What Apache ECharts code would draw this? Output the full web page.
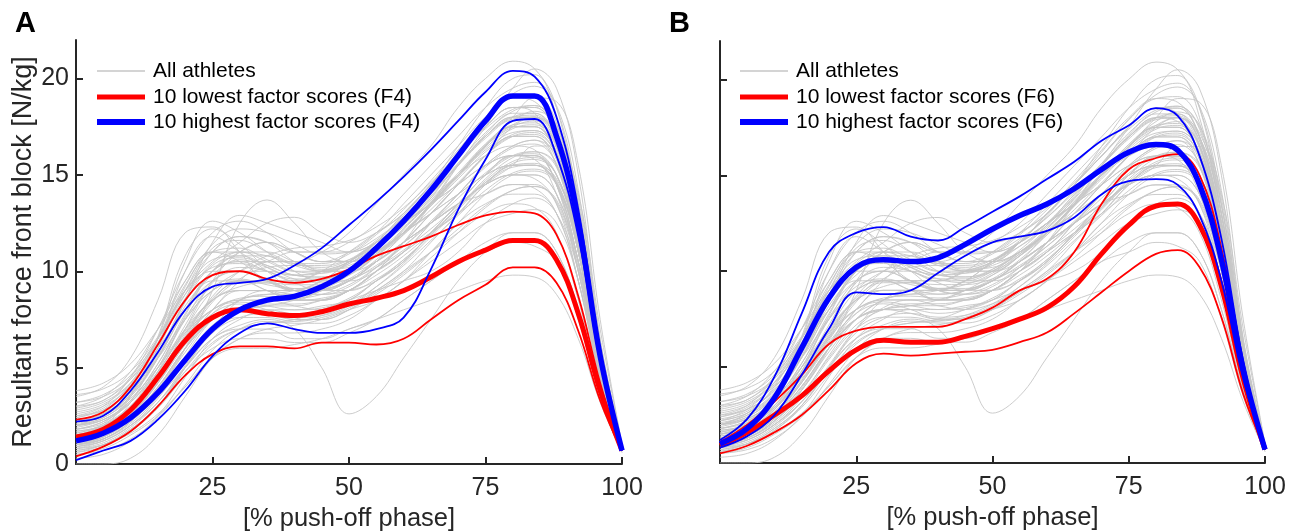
<!DOCTYPE html>
<html><head><meta charset="utf-8">
<script src="https://cdn.jsdelivr.net/npm/echarts@6/dist/echarts.min.js"></script>
<style>html,body{margin:0;padding:0;background:#fff}#c{width:1300px;height:531px}</style>
</head><body><div id="c"></div>
<script>
// x positions (% push-off phase)
const X = [0,5,10,15,20,25,30,35,40,45,50,55,60,65,70,75,80,84,88,92,96,100];
const xTicks = [25,50,75,100];
const yTicks = [0,5,10,15,20];

// All athletes (same curves in both panels)
const g1 = [2.0,2.6,4.0,6.5,9.5,11.0,10.5,9.5,9.0,9.5,10.5,11.5,12.5,13.8,15.0,16.0,16.5,16.3,14.5,10.0,4.5,0.8];
const g2 = [3.5,4.0,5.5,8.5,12.0,12.3,11.0,9.5,9.5,10.0,11.0,12.0,13.0,14.5,16.0,17.5,18.5,18.2,16.0,11.0,4.8,0.8];
const g3 = [1.0,1.5,2.5,4.0,6.0,7.5,8.5,8.8,9.0,9.5,10.5,11.5,12.5,13.5,14.5,15.5,16.0,15.8,14.0,10.0,4.5,0.7];
const g4 = [0.5,0.8,1.5,2.5,4.0,5.5,6.0,6.0,6.2,6.5,7.0,7.5,8.0,8.5,9.0,9.5,9.8,9.7,8.8,6.5,3.2,0.6];
const g5 = [2.5,3.0,4.5,7.0,10.0,12.0,12.6,12.0,11.0,10.5,11.0,12.0,13.5,15.0,16.5,18.0,19.0,18.8,17.0,12.0,5.0,0.8];
const g6 = [1.5,2.0,3.0,5.0,7.5,9.0,9.5,9.0,8.5,8.5,9.0,10.0,11.5,13.0,14.5,16.0,17.0,17.2,16.0,12.0,5.5,0.8];
const g7 = [0.8,1.2,2.0,3.2,5.0,6.5,7.0,7.0,6.5,6.5,7.0,7.5,8.5,9.5,10.5,11.5,12.0,12.0,11.0,8.0,3.8,0.7];
const g8 = [3.0,3.3,4.5,6.5,8.5,10.0,11.0,11.5,11.0,10.5,10.5,11.5,13.0,14.5,16.5,18.5,20.0,20.2,18.0,12.5,5.0,0.8];
const g9 = [1.8,2.2,3.2,5.0,7.0,8.5,9.0,9.0,8.8,9.0,9.5,10.5,11.5,12.5,13.5,14.5,15.0,15.0,14.0,10.5,5.0,0.8];
const g10 = [1.0,1.3,2.2,3.5,5.0,6.5,7.2,7.5,7.0,5.0,2.6,3.5,5.5,7.5,9.5,11.0,12.0,12.0,11.0,8.0,3.8,0.7];
const g11 = [2.2,2.8,4.2,6.5,9.0,10.5,11.5,12.5,12.8,12.0,11.5,12.0,13.0,14.5,16.0,17.5,18.5,18.5,17.0,12.5,5.5,0.8];
const g12 = [0.3,0.5,1.2,2.5,4.5,6.5,7.5,8.0,8.0,8.2,8.5,9.5,10.5,12.0,13.5,15.0,16.0,16.0,14.5,10.5,4.8,0.7];
const g13 = [1.2,1.6,2.6,4.2,6.2,8.0,9.5,10.5,10.5,10.0,10.0,10.8,12.0,13.5,15.0,16.5,17.5,17.8,16.5,12.5,5.8,0.8];
const g14 = [2.8,3.2,4.2,6.0,8.0,9.5,10.0,10.0,9.8,10.0,10.5,11.5,12.5,13.5,14.5,15.5,16.0,16.0,15.0,11.5,5.5,0.9];
const g15 = [0.6,1.0,1.8,3.0,4.8,6.3,7.0,7.3,7.5,8.0,8.5,9.0,9.5,10.0,11.0,12.5,13.5,13.8,13.0,10.0,4.8,0.7];
const g16 = [1.5,1.8,2.8,4.5,7.0,9.5,11.0,11.5,11.0,10.5,10.5,11.0,12.0,13.5,15.5,17.5,19.5,20.5,19.5,15.0,6.5,0.9];
const g17 = [2.0,2.4,3.4,5.0,6.8,8.0,8.5,8.5,8.2,8.0,8.3,9.0,10.0,11.0,12.0,13.0,13.5,13.3,12.0,8.5,4.0,0.7];
const g18 = [3.8,4.2,5.2,7.0,9.0,10.0,10.0,9.5,9.0,9.0,9.5,10.5,11.5,13.0,14.5,16.0,17.0,17.0,15.5,11.0,5.0,0.8];
const g19 = [1.0,1.3,2.2,3.8,6.0,8.0,9.0,9.0,8.5,8.5,9.0,10.0,11.5,13.5,15.5,17.0,18.0,18.0,16.5,12.0,5.2,0.8];
const g20 = [0.8,1.0,1.6,2.6,4.0,5.5,6.5,7.0,7.2,7.5,8.0,8.5,9.5,10.5,11.5,12.5,13.0,13.2,12.5,9.5,4.5,0.7];
const g21 = [2.5,2.8,3.8,5.8,8.5,11.0,11.8,11.5,10.5,10.0,10.0,10.5,11.5,12.5,13.5,14.5,15.0,14.8,13.5,9.5,4.5,0.8];
const g22 = [1.4,1.8,2.8,4.5,6.5,8.0,8.5,8.5,8.5,9.0,9.5,10.5,11.5,12.5,13.5,14.0,14.5,14.5,13.5,10.0,4.5,0.7];
const g23 = [1.6,2.0,3.0,4.8,7.0,9.0,10.0,10.5,11.0,11.0,11.0,11.5,12.5,14.0,15.5,17.0,18.0,18.2,17.0,13.0,6.0,0.9];
const g24 = [0.9,1.2,2.0,3.2,4.8,6.0,6.5,6.5,6.3,6.3,6.8,7.5,8.5,9.5,10.5,11.0,11.5,11.3,10.5,7.5,3.5,0.6];
const g25 = [2.2,2.6,3.6,5.5,8.0,10.0,10.5,10.0,9.5,9.5,10.0,11.0,12.0,13.0,14.5,16.0,17.5,18.0,17.0,13.0,6.0,0.9];
const g26 = [1.2,1.5,2.4,4.0,6.0,7.5,8.0,8.0,7.8,8.0,8.5,9.5,10.5,12.0,13.5,15.0,16.0,16.2,15.5,11.5,5.5,0.8];
const g27 = [3.0,3.5,4.8,7.0,9.5,11.0,11.0,10.5,10.0,10.0,10.5,11.5,13.0,14.5,16.0,17.5,18.5,18.5,17.0,12.5,5.5,0.8];
const g28 = [0.0,0.0,0.3,1.5,3.5,5.5,6.5,6.8,6.8,7.0,7.5,8.5,9.5,11.0,12.5,14.0,15.0,15.2,14.5,11.0,5.0,0.7];
const g29 = [1.8,2.2,3.2,5.0,7.5,9.5,10.0,9.5,9.0,8.8,9.0,9.5,10.5,12.0,13.5,15.0,16.0,16.0,14.5,10.5,4.8,0.8];
const g30 = [2.6,3.0,4.0,5.5,7.5,9.0,9.5,9.5,9.5,10.0,10.5,11.5,12.5,14.0,15.5,17.0,18.0,17.8,16.0,11.5,5.0,0.8];
const g31 = [1.0,1.4,2.4,4.0,6.0,7.5,8.0,7.8,7.5,7.5,8.0,8.8,9.8,11.0,12.5,13.5,14.0,14.0,13.0,9.5,4.5,0.7];
const g32 = [2.0,2.5,3.5,5.5,8.5,11.5,12.9,12.5,12.0,11.5,11.0,11.5,12.5,13.5,15.0,16.5,17.5,17.5,16.0,11.5,5.0,0.8];
const g33 = [1.3,1.7,2.7,4.3,6.3,7.8,8.3,8.0,7.5,7.5,8.0,9.0,10.0,11.5,13.0,14.5,15.5,15.5,14.5,10.5,4.8,0.8];
const g34 = [0.7,1.0,1.8,3.0,5.0,7.0,8.5,9.0,9.0,9.0,9.5,10.5,12.0,13.5,15.0,16.5,17.5,17.5,16.0,11.5,5.0,0.8];
const g35 = [3.2,3.6,4.6,6.5,9.0,11.0,11.8,11.5,11.0,11.0,11.5,12.5,14.0,15.5,17.0,18.5,19.5,19.8,18.5,13.5,6.0,0.9];
const g36 = [1.7,2.0,2.9,4.4,6.2,7.5,8.0,8.2,8.5,9.0,9.8,10.8,12.0,13.0,14.0,15.0,15.5,15.5,14.8,11.5,5.5,0.8];
const g37 = [2.4,2.8,3.8,5.8,8.0,9.5,9.5,9.0,8.5,8.5,9.0,10.0,11.0,12.0,13.0,14.0,14.5,14.3,13.0,9.5,4.3,0.7];
const g38 = [1.1,1.5,2.5,4.2,6.5,8.5,9.5,9.5,9.0,9.0,9.5,10.5,11.5,12.5,13.5,14.5,15.0,15.0,14.0,10.5,5.0,0.8];
const g39 = [0.9,1.3,2.2,3.6,5.5,7.2,8.0,8.3,8.3,8.5,9.0,10.0,11.0,12.5,14.0,15.5,16.5,16.8,16.0,12.5,6.0,0.9];
const g40 = [2.0,2.3,3.3,5.2,7.8,10.0,10.8,10.8,10.3,10.0,10.3,11.0,12.0,13.0,14.0,15.0,15.5,15.5,14.5,11.0,5.2,0.8];
const g41 = [1.5,2.0,3.5,6.5,10.5,12.6,12.0,11.0,10.0,9.5,9.5,10.0,11.0,12.5,14.0,15.5,16.5,16.8,15.5,11.5,5.0,0.8];
const g42 = [1.0,1.3,2.2,3.8,6.0,9.0,12.5,13.7,12.5,11.0,10.5,11.0,12.0,13.5,15.0,16.5,17.5,17.5,16.0,11.5,5.0,0.8];
const g43 = [2.0,2.4,3.5,5.5,8.0,10.0,10.5,10.5,10.5,11.0,12.0,13.5,15.0,16.5,18.5,20.0,20.9,20.5,18.5,13.0,5.5,0.8];
const g44 = [1.5,1.9,2.9,4.6,6.8,8.5,9.0,9.0,9.0,9.5,10.0,11.0,12.0,13.5,15.0,16.5,18.0,19.0,18.8,15.5,7.5,1.0];
const g45 = [1.0,1.4,2.3,3.8,5.8,7.5,8.0,8.2,8.2,8.5,9.0,10.0,11.0,12.0,13.0,14.5,15.5,16.5,16.5,14.0,7.0,1.0];
const g46 = [1.3,1.8,3.2,6.0,10.0,11.8,11.0,10.0,9.0,8.8,9.2,10.2,11.5,13.0,14.5,16.0,17.0,17.0,15.8,11.8,5.4,0.8];
const g47 = [2.1,2.5,3.6,5.6,8.2,9.8,10.6,10.2,9.6,9.4,9.8,10.8,12.2,13.8,15.6,17.2,18.3,18.6,17.5,13.5,6.2,0.9];
const g48 = [0.6,0.9,1.7,3.0,5.0,6.8,7.6,7.8,7.6,7.7,8.2,9.2,10.4,11.8,13.2,14.6,15.6,15.8,15.0,11.2,5.2,0.8];
const g49 = [1.9,2.3,3.3,5.2,7.6,9.2,9.6,9.3,9.1,9.3,9.9,10.9,12.1,13.4,14.8,16.2,17.1,17.3,16.2,12.0,5.5,0.8];
const g50 = [2.7,3.1,4.2,6.2,9.0,11.2,11.6,11.0,10.4,10.2,10.6,11.6,12.8,14.2,15.6,17.0,18.0,18.1,16.8,12.4,5.6,0.8];
const g51 = [1.1,1.4,2.3,3.9,6.0,7.8,8.6,8.7,8.6,8.8,9.3,10.2,11.3,12.6,14.0,15.4,16.4,16.6,15.6,11.8,5.6,0.8];
const g52 = [0.9,1.2,2.0,3.4,5.4,7.0,7.6,7.6,7.4,7.6,8.1,8.9,9.9,11.0,12.2,13.4,14.2,14.4,13.6,10.2,4.8,0.7];
const g53 = [2.3,2.7,3.9,6.0,8.8,10.6,10.8,10.3,9.8,9.7,10.1,11.0,12.2,13.6,15.1,16.6,17.6,17.7,16.4,12.1,5.5,0.8];
const g54 = [1.6,2.1,3.6,6.6,10.8,12.2,11.4,10.2,9.8,9.9,10.4,11.3,12.4,13.7,15.0,16.3,17.2,17.3,16.2,12.2,5.6,0.8];
const g55 = [1.4,1.7,2.6,4.2,6.4,8.4,9.6,10.2,10.3,10.3,10.6,11.3,12.3,13.6,15.0,16.5,17.6,18.0,17.2,13.4,6.2,0.9];
const g56 = [0.7,1.0,1.7,2.9,4.6,6.2,7.0,7.3,7.4,7.7,8.3,9.2,10.3,11.6,12.9,14.2,15.1,15.3,14.6,11.2,5.3,0.8];
const g57 = [3.2,3.5,4.4,6.2,8.6,10.4,11.0,10.8,10.4,10.4,10.9,11.9,13.2,14.7,16.3,17.9,19.0,19.1,17.7,13.0,5.8,0.8];
const g58 = [1.8,2.1,3.0,4.6,6.6,8.0,8.4,8.2,8.0,8.1,8.6,9.5,10.6,11.9,13.3,14.7,15.7,15.9,15.0,11.3,5.3,0.8];
const g59 = [2.4,2.9,4.1,6.3,9.2,11.4,12.2,12.0,11.4,10.9,11.0,11.7,12.8,14.1,15.5,16.9,17.9,18.0,16.8,12.5,5.7,0.8];
const g60 = [1.0,1.3,2.1,3.5,5.6,7.5,8.5,8.8,8.8,9.0,9.6,10.6,11.9,13.4,15.0,16.6,17.8,18.3,17.6,13.8,6.4,0.9];
const g61 = [2.0,2.3,3.2,4.8,6.9,8.5,9.2,9.4,9.3,9.3,9.6,10.2,11.1,12.2,13.4,14.6,15.4,15.5,14.6,11.0,5.1,0.8];
const g62 = [1.5,1.9,2.9,4.7,7.2,9.4,10.2,10.0,9.4,9.0,9.0,9.6,10.6,11.9,13.3,14.8,15.9,16.2,15.4,11.7,5.5,0.8];
const g63 = [0.8,1.1,1.9,3.2,5.1,7.0,8.1,8.5,8.5,8.6,9.0,9.8,10.8,12.0,13.3,14.6,15.5,15.6,14.7,11.0,5.1,0.7];
const g64 = [2.9,3.3,4.4,6.5,9.3,11.0,11.2,10.6,10.0,9.9,10.4,11.5,12.9,14.5,16.2,17.9,19.2,19.6,18.6,14.2,6.4,0.9];
const g65 = [1.2,1.6,2.6,4.3,6.6,8.6,9.4,9.4,9.1,9.1,9.5,10.3,11.3,12.5,13.8,15.1,16.0,16.1,15.0,11.1,5.1,0.7];
const g66 = [1.7,2.0,2.9,4.5,6.7,8.7,10.0,10.8,11.2,11.3,11.6,12.3,13.3,14.6,16.0,17.4,18.4,18.6,17.4,12.9,5.8,0.8];
const g67 = [0.5,0.7,1.3,2.4,4.1,5.9,7.0,7.4,7.3,7.3,7.7,8.5,9.5,10.7,12.0,13.3,14.2,14.4,13.7,10.4,4.9,0.7];
const g68 = [2.2,2.6,3.7,5.7,8.4,10.3,10.7,10.3,9.8,9.7,10.0,10.8,11.9,13.2,14.6,16.0,17.0,17.1,16.0,11.9,5.5,0.8];
const g69 = [1.3,1.7,2.8,4.8,7.7,10.0,11.0,11.0,10.5,10.1,10.2,10.9,12.0,13.4,14.9,16.4,17.4,17.6,16.6,12.5,5.8,0.8];
const g70 = [3.6,3.9,4.8,6.6,8.8,10.2,10.4,10.0,9.6,9.6,10.1,11.1,12.4,13.9,15.5,17.1,18.2,18.2,16.6,11.9,5.3,0.8];
const grayLines = [g1,g2,g3,g4,g5,g6,g7,g8,g9,g10,g11,g12,g13,g14,g15,g16,g17,g18,g19,g20,
  g21,g22,g23,g24,g25,g26,g27,g28,g29,g30,g31,g32,g33,g34,g35,g36,g37,g38,g39,g40,
  g41,g42,g43,g44,g45,g46,g47,g48,g49,g50,g51,g52,g53,g54,g55,g56,g57,g58,g59,g60,
  g61,g62,g63,g64,g65,g66,g67,g68,g69,g70];

// Panel A (F4): mean and +/- SD of the 10 lowest / 10 highest factor scores
const redMeanA = [1.4,1.8,2.8,4.5,6.4,7.6,8.0,7.8,7.7,7.9,8.3,8.6,9.0,9.7,10.5,11.1,11.6,11.6,10.6,7.8,3.8,0.7];
const redHiA   = [2.3,2.7,4.0,6.2,8.5,9.8,10.0,9.6,9.4,9.6,10.1,10.8,11.3,11.8,12.4,12.9,13.1,13.0,11.9,8.7,4.2,0.7];
const redLoA   = [0.4,0.9,1.7,3.0,4.6,5.7,6.1,6.1,6.0,6.3,6.3,6.2,6.5,7.5,8.5,9.3,10.2,10.2,9.4,6.9,3.3,0.7];
const blueMeanA = [1.2,1.6,2.4,3.7,5.4,7.0,8.0,8.5,8.7,9.2,10.0,11.2,12.6,14.2,16.0,17.8,19.1,19.1,17.0,12.5,5.6,0.7];
const blueHiA   = [2.2,2.5,3.8,5.8,8.0,9.2,9.4,9.6,10.3,11.2,12.4,13.6,14.9,16.3,17.8,19.3,20.4,20.1,18.0,13.2,5.9,0.7];
const blueLoA   = [0.2,0.7,1.2,2.3,3.8,5.6,6.8,7.3,7.0,6.8,6.8,7.0,7.6,10.1,13.2,15.8,17.8,17.9,16.0,11.8,5.3,0.7];

// Panel B (F6)
const redMeanB = [0.9,1.6,2.5,3.5,4.8,5.9,6.4,6.3,6.3,6.6,7.0,7.5,8.1,9.2,10.9,12.4,13.4,13.5,12.4,9.2,4.4,0.7];
const redHiB   = [1.1,2.0,3.2,4.6,6.2,6.9,7.1,7.1,7.1,7.5,8.1,9.0,9.6,11.0,13.5,15.3,15.9,16.1,15.0,11.2,5.2,0.7];
const redLoB   = [0.5,0.9,1.6,2.5,3.8,5.2,5.7,5.6,5.7,5.8,5.9,6.3,6.8,7.8,8.9,10.0,10.9,11.1,10.2,7.6,3.6,0.7];
const blueMeanB = [1.0,1.8,3.4,6.0,8.6,10.2,10.6,10.5,10.7,11.4,12.2,12.9,13.5,14.3,15.3,16.2,16.6,16.3,14.5,10.6,4.9,0.7];
const blueHiB   = [1.2,2.3,4.5,7.8,11.0,12.0,12.3,11.8,11.6,12.3,13.1,13.9,14.8,15.7,16.8,17.6,18.5,18.1,16.0,11.7,5.3,0.7];
const blueLoB   = [0.8,1.4,2.5,4.6,7.0,8.9,8.8,9.0,9.9,10.8,11.5,11.8,12.1,12.8,14.0,14.7,14.8,14.5,12.9,9.5,4.4,0.7];

const names = {
  all: 'All athletes',
  loA: '10 lowest factor scores (F4)', hiA: '10 highest factor scores (F4)',
  loB: '10 lowest factor scores (F6)', hiB: '10 highest factor scores (F6)'
};

const FONT = "'Liberation Sans', Arial, sans-serif";
const AX = '#262626';
const RED = '#ff0000', BLUE = '#0000ff', GRAY = '#c6c6c6';

function pts(v){ return X.map((x,i)=>[x, v[i]]); }
function ln(name, v, idx, color, width, z){
  return { name, type:'line', xAxisIndex:idx, yAxisIndex:idx, data:pts(v), smooth:0.4, smoothConstraint:false,
    symbol:'none', silent:true, z, lineStyle:{color, width}, itemStyle:{color}, emphasis:{disabled:true} };
}

const series = [];
[0,1].forEach(idx=>{
  grayLines.forEach(g=>series.push(ln(names.all, g, idx, GRAY, 0.9, 1)));
});
series.push(ln(names.loA, redMeanA, 0, RED, 5, 3));
series.push(ln(names.loA, redHiA, 0, RED, 1.8, 3));
series.push(ln(names.loA, redLoA, 0, RED, 1.8, 3));
series.push(ln(names.hiA, blueMeanA, 0, BLUE, 5.5, 4));
series.push(ln(names.hiA, blueHiA, 0, BLUE, 1.8, 4));
series.push(ln(names.hiA, blueLoA, 0, BLUE, 1.8, 4));
series.push(ln(names.loB, redMeanB, 1, RED, 5, 3));
series.push(ln(names.loB, redHiB, 1, RED, 1.8, 3));
series.push(ln(names.loB, redLoB, 1, RED, 1.8, 3));
series.push(ln(names.hiB, blueMeanB, 1, BLUE, 5.5, 4));
series.push(ln(names.hiB, blueHiB, 1, BLUE, 1.8, 4));
series.push(ln(names.hiB, blueLoB, 1, BLUE, 1.8, 4));

function xAxis(idx){
  return { type:'value', gridIndex:idx, min:0, max:100,
    name:'[% push-off phase]', nameLocation:'middle', nameGap:38,
    nameTextStyle:{fontFamily:FONT, fontSize:25.5, color:AX},
    axisLine:{show:true, onZero:false, lineStyle:{color:AX, width:2}},
    axisTick:{show:true, inside:true, length:7, customValues:xTicks, lineStyle:{color:AX, width:2}},
    axisLabel:{show:true, customValues:xTicks, margin:12, fontFamily:FONT, fontSize:25, color:AX},
    splitLine:{show:false} };
}
function yAxis(idx, withLabels){
  return { type:'value', gridIndex:idx, min:0, max:22,
    name: withLabels ? 'Resultant force front block [N/kg]' : '', nameLocation:'middle', nameGap:35,
    nameTextStyle:{fontFamily:FONT, fontSize:27, color:AX},
    axisLine:{show:true, onZero:false, lineStyle:{color:AX, width:2}},
    axisTick:{show:true, inside:true, length:7, customValues:yTicks, lineStyle:{color:AX, width:2}},
    axisLabel:{show:withLabels, customValues:yTicks, margin:7, fontFamily:FONT, fontSize:25, color:AX},
    splitLine:{show:false} };
}
function legendItem(left, centerY, name, h){
  return { orient:'vertical', left, top:centerY-12.5, padding:0, itemWidth:48, itemHeight:h, itemGap:0,
    selectedMode:false, data:[{name, icon:'rect'}],
    textStyle:{fontFamily:FONT, fontSize:21, color:'#000', lineHeight:25, padding:[0,0,0,3]} };
}

const option = {
  animation:false,
  backgroundColor:'#fff',
  title:[
    {text:'A', left:10, top:4, textStyle:{fontFamily:FONT, fontSize:29, fontWeight:'bold', color:'#000'}},
    {text:'B', left:664, top:4, textStyle:{fontFamily:FONT, fontSize:29, fontWeight:'bold', color:'#000'}}
  ],
  grid:[
    {left:76, top:40, width:546, height:424, outerBoundsMode:'none', containLabel:false},
    {left:720, top:41, width:545, height:422, outerBoundsMode:'none', containLabel:false}
  ],
  legend:[
    legendItem(97, 71, names.all, 1.5), legendItem(97, 97, names.loA, 5), legendItem(97, 122, names.hiA, 6),
    legendItem(740, 71, names.all, 1.5), legendItem(740, 97, names.loB, 5), legendItem(740, 122, names.hiB, 6)
  ],
  xAxis:[xAxis(0), xAxis(1)],
  yAxis:[yAxis(0,true), yAxis(1,false)],
  series
};
const chart = echarts.init(document.getElementById('c'), null, {renderer:'canvas'});
chart.setOption(option);
</script></body></html>
